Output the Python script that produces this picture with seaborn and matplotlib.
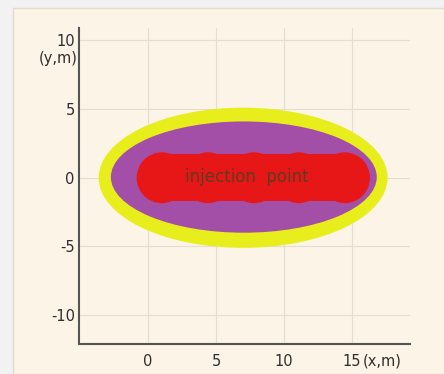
import matplotlib
matplotlib.use("Agg")
import matplotlib.pyplot as plt
import seaborn as sns
from matplotlib.patches import Ellipse, Circle, Rectangle

# data (x, y in metres)
outer_zone = dict(x=7.0, y=0.0, width=21.3, height=10.2)   # yellow
middle_zone = dict(x=7.05, y=0.05, width=19.6, height=8.1)  # purple
injection_x = [1.0, 4.4, 7.8, 11.1, 14.5]                   # red blobs
injection_r = 1.85
x_ticks = [0, 5, 10, 15]
y_ticks = [10, 5, 0, -5, -10]

sns.set_style("white")
plt.rcParams['font.family'] = ['DejaVu Sans']

fig = plt.figure(figsize=(4.44, 3.74), dpi=100, facecolor='#f2f2f2')
# cream panel behind the axes
fig.patches.append(Rectangle((13/444, 0), 1, (374-8)/374, transform=fig.transFigure,
                             facecolor='#fcf4e6', edgecolor='#e2dccf', lw=1, zorder=-5))

ax = fig.add_axes([79/444, 30/374, 331/444, 316/374])
ax.set_zorder(1)
ax.set_facecolor('#fcf4e6')

ax.add_patch(Ellipse((outer_zone['x'], outer_zone['y']), outer_zone['width'], outer_zone['height'],
                     facecolor='#e8ee1c', edgecolor='none', zorder=2))
ax.add_patch(Ellipse((middle_zone['x'], middle_zone['y']), middle_zone['width'], middle_zone['height'],
                     facecolor='#a34fa8', edgecolor='none', zorder=3))
for xc in injection_x:
    ax.add_patch(Circle((xc, 0), injection_r, facecolor='#e81717', edgecolor='none', zorder=4))
ax.add_patch(Rectangle((injection_x[0], -1.72), injection_x[-1] - injection_x[0], 3.44,
                       facecolor='#e81717', edgecolor='none', zorder=4))
ax.text(7.3, 0.05, 'injection  point', ha='center', va='center', fontsize=12,
        color='#5e3a22', zorder=5)

ax.set_xlim(-5.1, 19.3)
ax.set_ylim(-12.1, 10.9)
ax.set_xticks(x_ticks)
ax.set_yticks(y_ticks)
ax.set_xticklabels([str(t) for t in x_ticks], fontsize=10.5, color='#2e2e2e')
ax.set_yticklabels([str(t) for t in y_ticks], fontsize=10.5, color='#2e2e2e')
ax.tick_params(axis='x', length=0, pad=7)
ax.tick_params(axis='y', length=0, pad=3)
ax.grid(True, color='#e4ded2', lw=0.8, zorder=0)
ax.set_axisbelow(True)
for s in ['top', 'right']:
    ax.spines[s].set_visible(False)
for s in ['left', 'bottom']:
    ax.spines[s].set_color('#555555')
    ax.spines[s].set_linewidth(1.5)

ax.text(-0.005, 8.7, '(y,m)', transform=ax.get_yaxis_transform(), ha='right', va='center',
        fontsize=10.5, color='#2e2e2e')
ax.text(15.85, -0.031, '(x,m)', transform=ax.get_xaxis_transform(), ha='left', va='top',
        fontsize=10.5, color='#2e2e2e')

fig.savefig('out.png', dpi=100, facecolor=fig.get_facecolor())
